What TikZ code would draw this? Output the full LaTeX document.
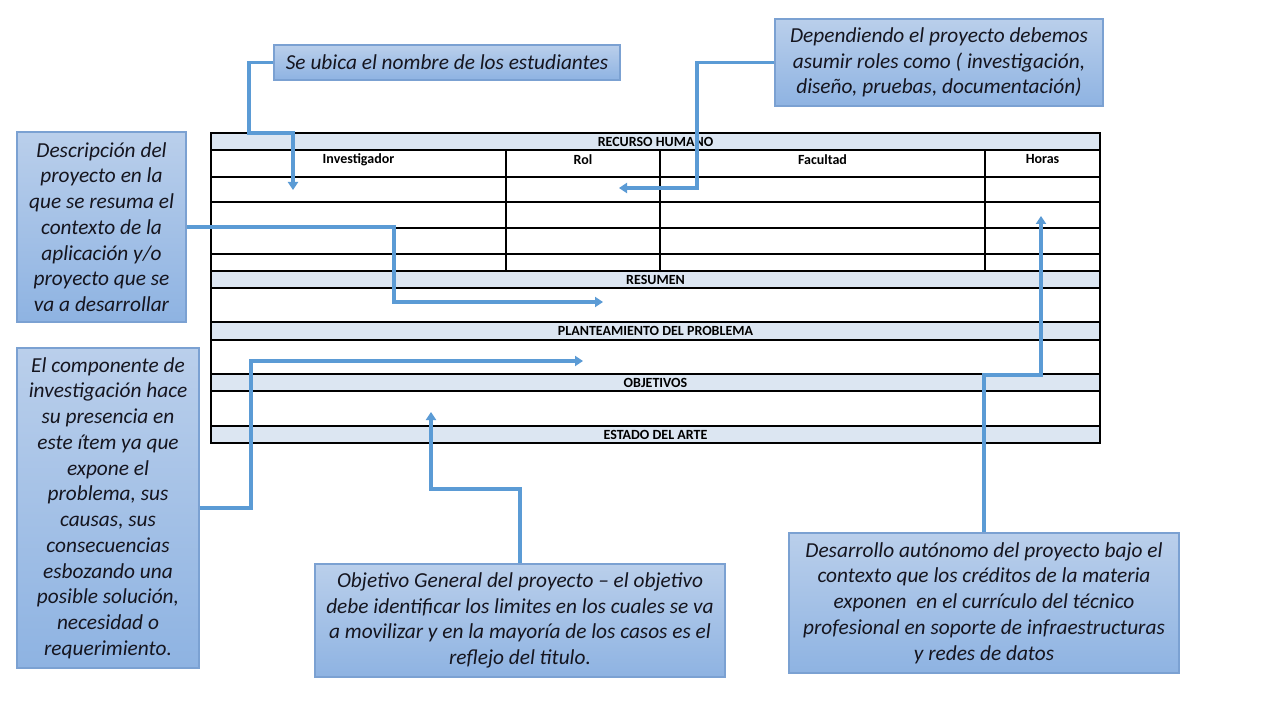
\documentclass[tikz,border=0pt]{standalone}
\usepackage{fontspec}
\setmainfont{Carlito}
\usetikzlibrary{arrows.meta}
\definecolor{conncol}{HTML}{5B9BD5}
\definecolor{hdrfill}{HTML}{DCE6F2}
\definecolor{boxtop}{HTML}{BACFEB}
\definecolor{boxbot}{HTML}{8EB3E2}
\definecolor{boxline}{HTML}{7BA1D2}
\definecolor{txtcol}{HTML}{15151F}
\tikzset{
  callout/.style={draw=boxline, line width=0.9pt, top color=boxtop, bottom color=boxbot,
    inner sep=0pt, align=center, text=txtcol,
    font=\fontsize{16}{19.3}\selectfont\itshape},
  conn/.style={draw=conncol, line width=2.6pt, -{Triangle[length=6pt,width=7.5pt]}},
  tbl/.style={draw=black, line width=1.2pt},
  hdr/.style={fill=hdrfill},
  hdrtxt/.style={font=\fontsize{10.5}{12}\selectfont\bfseries, inner sep=0pt},
}
\begin{document}
\begin{tikzpicture}[x=0.75pt,y=-0.75pt]
\useasboundingbox[fill=white] (0,0) rectangle (1280,720);

% ---------- table ----------
\foreach \a/\b in {133/150, 271/288, 322/340, 374/391, 426/443}{
  \path[hdr] (211,\a) rectangle (1100,\b);
}
\draw[tbl] (211,133) rectangle (1100,443);
\foreach \yy in {150,177,202,228,254,271,288,322,340,374,391,426}{
  \draw[tbl] (211,\yy) -- (1100,\yy);
}
\foreach \xx in {506,660,985}{
  \draw[tbl] (\xx,150) -- (\xx,271);
}
\node[hdrtxt] (hRH) at (655.5,142) {RECURSO HUMANO};
\node[hdrtxt] (hInv) at (358.5,159.5) {Investigador};
\node[hdrtxt] (hRol) at (583,159.5) {Rol};
\node[hdrtxt] (hFac) at (822.5,159.5) {Facultad};
\node[hdrtxt] (hHor) at (1042.5,159.5) {Horas};
\node[hdrtxt] (hRes) at (655.5,280) {RESUMEN};
\node[hdrtxt] (hPla) at (655.5,331) {PLANTEAMIENTO DEL PROBLEMA};
\node[hdrtxt] (hObj) at (655.5,383) {OBJETIVOS};
\node[hdrtxt] (hEst) at (655.5,435) {ESTADO DEL ARTE};

% ---------- callouts ----------
\node[callout, minimum width=259.5pt, minimum height=26.25pt] (b1) at (447,62.5)
  {Se ubica el nombre de los estudiantes};
\node[callout, minimum width=246pt, minimum height=65.25pt] (b2) at (939,62.5)
  {Dependiendo el proyecto debemos\\asumir roles como ( investigación,\\diseño, pruebas, documentación)};
\node[callout, minimum width=126.75pt, minimum height=142.5pt] (b3) at (101.5,227)
  {Descripción del\\proyecto en la\\que se resuma el\\contexto de la\\aplicación y/o\\proyecto que se\\va a desarrollar};
\node[callout, minimum width=136.5pt, minimum height=240pt] (b4) at (108,508)
  {El componente de\\investigación hace\\su presencia en\\este ítem ya que\\expone el\\problema, sus\\causas, sus\\consecuencias\\esbozando una\\posible solución,\\necesidad o\\requerimiento.};
\node[callout, minimum width=307.5pt, minimum height=84.75pt] (b5) at (520,620.5)
  {Objetivo General del proyecto – el objetivo\\debe identificar los limites en los cuales se va\\a movilizar y en la mayoría de los casos es el\\reflejo del titulo.};
\node[callout, minimum width=292.5pt, minimum height=105pt] (b6) at (984,603)
  {Desarrollo autónomo del proyecto bajo el\\contexto que los créditos de la materia\\exponen\ \ en el currículo del técnico\\profesional en soporte de infraestructuras\\y redes de datos};

% ---------- connector targets ----------
\coordinate (t1) at (293,190);
\coordinate (t2) at (619,188);
\coordinate (t3) at (603,302);
\coordinate (t4) at (583,361);
\coordinate (t5) at (431,412);
\coordinate (t6) at (1041,216);

% ---------- connectors ----------
\draw[conn] (b1.west) -| (249,133) -| (t1);
\draw[conn] (b2.west) -| (697,188) -- (t2);
\draw[conn] (b3.east) -| (394,302) -- (t3);
\draw[conn] (b4.east) -| (251,361) -- (t4);
\draw[conn] (b5.north) |- (431,489) -- (t5);
\draw[conn] (b6.north) |- (1041,375) -- (t6);
\end{tikzpicture}
\end{document}
